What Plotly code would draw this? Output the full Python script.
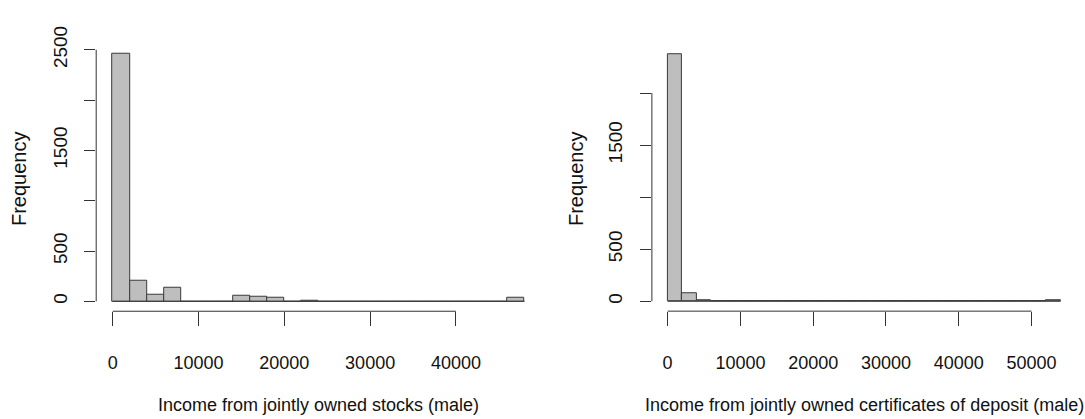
import plotly.graph_objects as go

# ---------------- data ----------------
stocks_edges = list(range(0, 48001, 2000))
stocks_counts = [2462, 200, 64, 131, 0, 0, 0, 57, 45, 32, 0, 8,
                 0, 0, 0, 0, 0, 0, 0, 0, 0, 0, 0, 35]

cd_edges = list(range(0, 54001, 2000))
cd_counts = [2374, 76, 12] + [0] * 23 + [12]

stocks_xticks = [0, 10000, 20000, 30000, 40000]
cd_xticks = [0, 10000, 20000, 30000, 40000, 50000]
stocks_yticks = [0, 500, 1000, 1500, 2000, 2500]
stocks_ytext = ["0", "500", "", "1500", "", "2500"]
cd_yticks = [0, 500, 1000, 1500, 2000]
cd_ytext = ["0", "500", "", "1500", ""]

stocks_title = "Income from jointly owned stocks (male)"
cd_title = "Income from jointly owned certificates of deposit (male)"
ylab = "Frequency"

# ---------------- layout constants ----------------
W, H = 1085, 419
FONT = "Liberation Sans, Arial, Helvetica, sans-serif"
TXT = "#111111"
AX = "#333333"
FILL = "#BEBEBE"
EDGE = "#3a3a3a"

panels = [
    dict(edges=stocks_edges, counts=stocks_counts, xt=stocks_xticks, yt=stocks_yticks,
         ytt=stocks_ytext, title=stocks_title, px=(96.2, 541.1), py=(306.4, 26.9),
         ylab_x=19.7),
    dict(edges=cd_edges, counts=cd_counts, xt=cd_xticks, yt=cd_yticks,
         ytt=cd_ytext, title=cd_title, px=(651.9, 1076.4), py=(306.3, 27.4),
         ylab_x=576.7),
]

fig = go.Figure()
shapes = []
annotations = []
for i, p in enumerate(panels, start=1):
    xa = "x" if i == 1 else f"x{i}"
    ya = "y" if i == 1 else f"y{i}"
    e = p["edges"]
    c = p["counts"]
    centers = [(e[k] + e[k + 1]) / 2 for k in range(len(c))]
    widths = [e[k + 1] - e[k] for k in range(len(c))]
    fig.add_trace(go.Bar(x=centers, y=c, width=widths, xaxis=xa, yaxis=ya,
                         marker=dict(color=FILL, line=dict(color=EDGE, width=1)),
                         showlegend=False, hoverinfo="x+y"))
    # baseline drawn by zero-count bins in R
    fig.add_trace(go.Scatter(x=[e[0], e[-1]], y=[0, 0], xaxis=xa, yaxis=ya, mode="lines",
                             line=dict(color=EDGE, width=1), showlegend=False,
                             hoverinfo="skip"))
    span = e[-1] - e[0]
    xr = [e[0] - 0.04 * span, e[-1] + 0.04 * span]
    ymax = max(c)
    yr = [-0.04 * ymax, 1.04 * ymax]
    xdom = [p["px"][0] / W, p["px"][1] / W]
    ydom = [1 - p["py"][0] / H, 1 - p["py"][1] / H]
    xkey = "xaxis" if i == 1 else f"xaxis{i}"
    ykey = "yaxis" if i == 1 else f"yaxis{i}"
    fig.update_layout({
        xkey: dict(domain=xdom, range=xr, anchor=ya, showgrid=False, zeroline=False,
                   showline=False, ticks="outside", ticklen=14, tickwidth=1, tickcolor=AX,
                   tickvals=p["xt"], ticktext=[str(v) for v in p["xt"]],
                   tickfont=dict(family=FONT, size=18, color=TXT), ticklabelstandoff=21,
                   fixedrange=True),
        ykey: dict(domain=ydom, range=yr, anchor=xa, showgrid=False, zeroline=False,
                   showline=False, ticks="outside", ticklen=11, tickwidth=1, tickcolor=AX,
                   tickvals=p["yt"], ticktext=p["ytt"], tickangle=-90,
                   tickfont=dict(family=FONT, size=19, color=TXT), ticklabelstandoff=10,
                   fixedrange=True),
    })
    # R-style axis lines spanning first..last tick
    shapes.append(dict(type="line", xref=xa, yref=f"{ya} domain", x0=p["xt"][0],
                       x1=p["xt"][-1], y0=0, y1=0, line=dict(color=AX, width=1)))
    shapes.append(dict(type="line", xref=f"{xa} domain", yref=ya, x0=0, x1=0,
                       y0=p["yt"][0], y1=p["yt"][-1], line=dict(color=AX, width=1)))
    annotations.append(dict(text=p["title"], xref=f"{xa} domain", yref="paper", x=0.5,
                            y=1 - 404.5 / H, xanchor="center", yanchor="middle",
                            showarrow=False, font=dict(family=FONT, size=18, color=TXT)))
    annotations.append(dict(text=ylab, xref="paper", yref="paper", x=p["ylab_x"] / W,
                            y=1 - 167.5 / H, xanchor="center", yanchor="middle",
                            textangle=-90, showarrow=False,
                            font=dict(family=FONT, size=20, color=TXT)))

fig.update_layout(width=W, height=H, margin=dict(l=0, r=0, t=0, b=0),
                  paper_bgcolor="white", plot_bgcolor="white", bargap=0,
                  shapes=shapes, annotations=annotations)

fig.write_html("out.html")
